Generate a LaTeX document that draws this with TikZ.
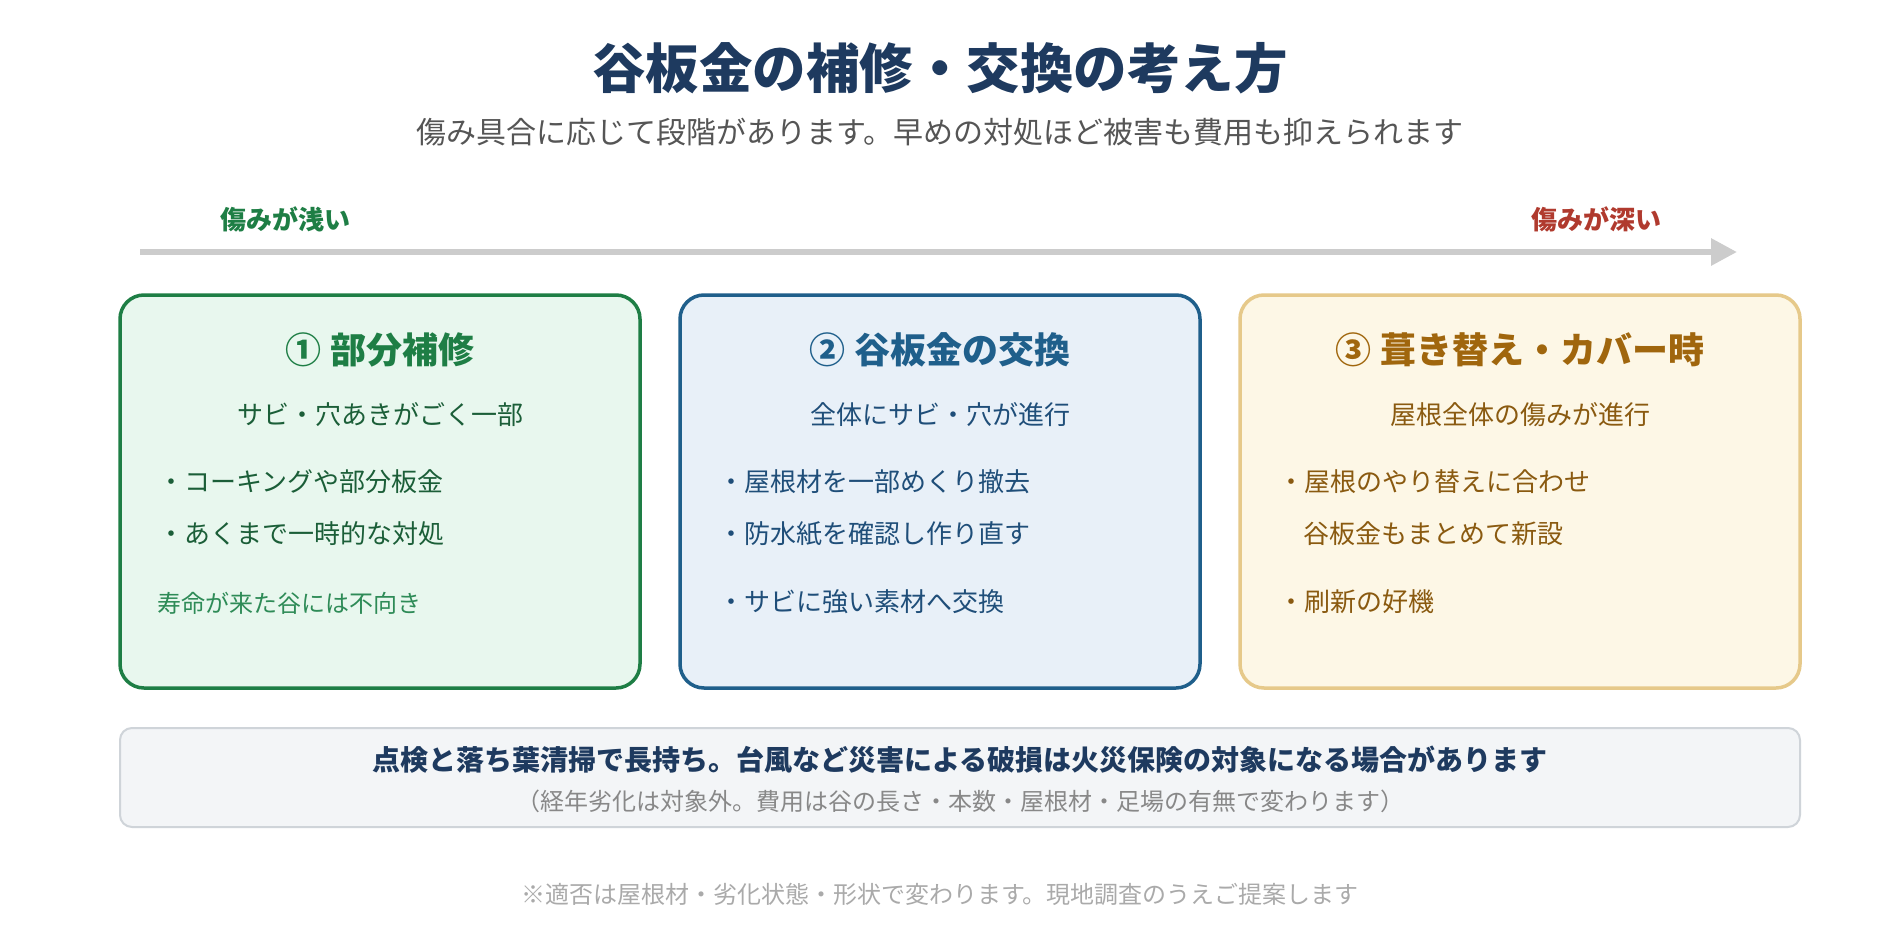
\documentclass[tikz,border=0pt]{standalone}
\usepackage{fontspec}
\setmainfont{Noto Sans CJK JP}
\usetikzlibrary{arrows.meta}
\definecolor{titlec}{HTML}{1E3A5F}
\definecolor{subc}{HTML}{555555}
\definecolor{greenc}{HTML}{1E7E45}
\definecolor{greentx}{HTML}{1B5E38}
\definecolor{greennote}{HTML}{2E8B57}
\definecolor{greenfill}{HTML}{E8F7EE}
\definecolor{redc}{HTML}{B03A2E}
\definecolor{arrowc}{HTML}{CCCCCC}
\definecolor{bluec}{HTML}{1F5F8B}
\definecolor{bluetx}{HTML}{1F4E79}
\definecolor{bluefill}{HTML}{E8F0F8}
\definecolor{goldc}{HTML}{E6C98A}
\definecolor{goldtitle}{HTML}{A0660D}
\definecolor{goldtx}{HTML}{8A5A10}
\definecolor{goldfill}{HTML}{FDF7E6}
\definecolor{notefill}{HTML}{F3F5F7}
\definecolor{noteborder}{HTML}{CFD4D9}
\definecolor{graytx}{HTML}{888888}
\definecolor{lightgray}{HTML}{AAAAAA}
\tikzset{
  fs/.style={font=\fontsize{#1}{#1}\selectfont},
  fsb/.style={font=\bfseries\fontsize{#1}{#1}\selectfont},
  card/.style={draw, line width=3.5pt, rounded corners=24pt, minimum height=393pt, inner sep=0pt},
  cardtitle/.style={fsb=36, inner sep=0pt},
  cardsub/.style={fs=26, inner sep=0pt},
  bullet/.style={fs=26, inner sep=0pt, anchor=west},
}
\begin{document}
\begin{tikzpicture}[x=1pt,y=-1pt]
\useasboundingbox[fill=white] (0,0) rectangle (1880,940);

% title
\node[fsb=53.5, text=titlec, inner sep=0pt] (title) at (940,68) {谷板金の補修・交換の考え方};
\node[fs=30, text=subc, inner sep=0pt] (subtitle) at (940,132) {傷み具合に応じて段階があります。早めの対処ほど被害も費用も抑えられます};

% arrow
\node[fsb=26, text=greenc, inner sep=0pt] (shallow) at (285,219) {傷みが浅い};
\node[fsb=26, text=redc, inner sep=0pt] (deep) at (1596,219) {傷みが深い};
\coordinate (as) at (140,252);
\coordinate (ae) at (1737,252);
\draw[line width=6pt, arrowc, -{Triangle[length=26pt,width=26pt]}] (as) -- (ae);

% card 1
\node[card, draw=greenc, fill=greenfill, minimum width=520pt] (c1) at (380,491.5) {};
\node[cardtitle, text=greenc] (c1t) at (380,350) {① 部分補修};
\node[cardsub, text=greentx] (c1s) at (380,415) {サビ・穴あきがごく一部};
\node[bullet, text=greentx] (c1a) at (158,482) {・コーキングや部分板金};
\node[bullet, text=greentx] (c1b) at (158,534) {・あくまで一時的な対処};
\node[fs=24, inner sep=0pt, anchor=west, text=greennote] (c1n) at (157,603) {寿命が来た谷には不向き};

% card 2
\node[card, draw=bluec, fill=bluefill, minimum width=520pt] (c2) at (940,491.5) {};
\node[cardtitle, text=bluec] (c2t) at (940,350) {② 谷板金の交換};
\node[cardsub, text=bluetx] (c2s) at (940,415) {全体にサビ・穴が進行};
\node[bullet, text=bluetx] (c2a) at (718,482) {・屋根材を一部めくり撤去};
\node[bullet, text=bluetx] (c2b) at (718,534) {・防水紙を確認し作り直す};
\node[bullet, text=bluetx] (c2c) at (718,602) {・サビに強い素材へ交換};

% card 3
\node[card, draw=goldc, fill=goldfill, minimum width=560pt] (c3) at (1520,491.5) {};
\node[cardtitle, text=goldtitle] (c3t) at (1520,350) {③ 葺き替え・カバー時};
\node[cardsub, text=goldtx] (c3s) at (1520,415) {屋根全体の傷みが進行};
\node[bullet, text=goldtx] (c3a) at (1278,482) {・屋根のやり替えに合わせ};
\node[bullet, text=goldtx] (c3b) at (1303,534) {谷板金もまとめて新設};
\node[bullet, text=goldtx] (c3c) at (1278,602) {・刷新の好機};

% bottom note
\node[draw=noteborder, line width=2pt, fill=notefill, rounded corners=12pt, minimum width=1680pt, minimum height=99pt, inner sep=0pt] (note) at (960,777.5) {};
\node[fsb=28, text=titlec, inner sep=0pt] (n1) at (960,760) {点検と落ち葉清掃で長持ち。台風など災害による破損は火災保険の対象になる場合があります};
\node[fs=24, text=graytx, inner sep=0pt] (n2) at (960,801) {（経年劣化は対象外。費用は谷の長さ・本数・屋根材・足場の有無で変わります）};

% footnote
\node[fs=24, text=lightgray, inner sep=0pt] (foot) at (940,894) {※適否は屋根材・劣化状態・形状で変わります。現地調査のうえご提案します};
\end{tikzpicture}
\end{document}
